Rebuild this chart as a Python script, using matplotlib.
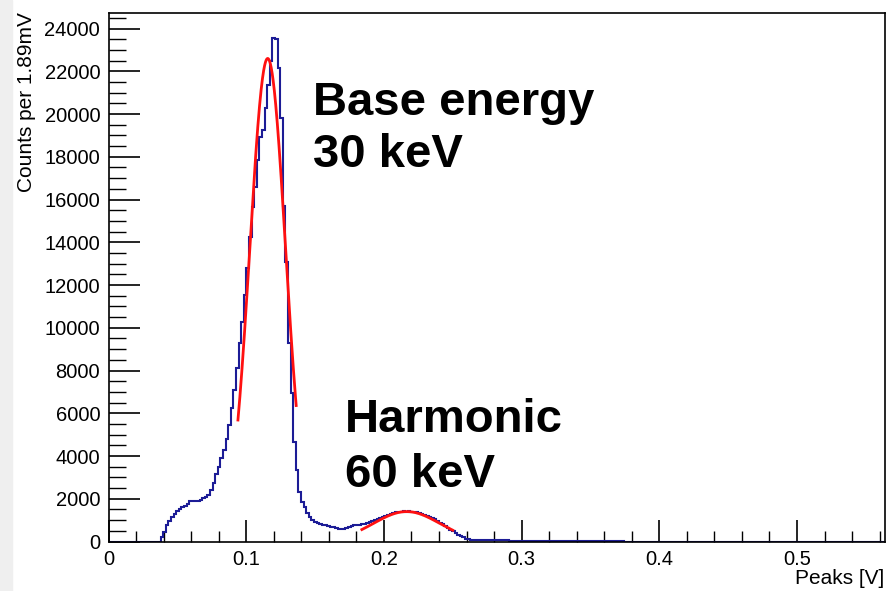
import numpy as np
import matplotlib
matplotlib.use('Agg')
import matplotlib.pyplot as plt
from matplotlib.ticker import MultipleLocator

plt.rcParams['font.family'] = ['Liberation Sans', 'DejaVu Sans']

# histogram: 1.89 mV bins starting at 0 V
BIN_W = 0.00189
N_BINS = 298
FIRST_BIN = 20  # bins before this one are empty
counts_nz = [
    200, 450, 750, 980, 1150, 1300, 1420, 1520, 1600, 1680,          # 20-29
    1760, 1880, 1900, 1880, 1900, 1960, 2020, 2100, 2180, 2400,      # 30-39
    2750, 3150, 3500, 3900, 4300, 4800, 5450, 6230, 7090, 8100,      # 40-49
    9270, 10280, 11530, 12780, 14260, 15660, 16600, 17850, 18940, 19250,  # 50-59
    20260, 21360, 22500, 23550, 23500, 22150, 19800, 15700, 13100, 9270,  # 60-69
    6930, 4670, 3350, 2330, 1860, 1630, 1320, 1160, 1000, 930,       # 70-79
    880, 830, 780, 750, 710, 690, 660, 620, 600, 585,                # 80-89
    590, 620, 690, 720, 760, 780, 760, 800, 830, 870,                # 90-99
    910, 960, 1000, 1050, 1110, 1150, 1200, 1250, 1290, 1330,        # 100-109
    1360, 1380, 1400, 1420, 1400, 1410, 1390, 1380, 1360, 1320,      # 110-119
    1300, 1250, 1210, 1150, 1100, 1030, 960, 880, 800, 720,          # 120-129
    640, 560, 480, 400, 320, 250, 190, 140, 110, 90,                 # 130-139
    75, 70, 65, 62, 60, 58, 56, 55, 54, 52,                          # 140-149
    50, 50, 48, 47, 46, 45, 44, 42, 40, 40,                          # 150-159
    38, 36, 35, 34, 32, 30, 30, 28, 26, 25,                          # 160-169
    24, 22, 20, 20, 18, 16, 15, 14, 12, 10,                          # 170-179
    10, 8, 8, 6, 6, 5, 5, 4, 4, 3,                                   # 180-189
    3, 2, 2, 2, 1, 1, 1, 1,                                          # 190-197
]

# gaussian fits (amplitude, mean [V], sigma [V], fit range [V])
fit_base = dict(amp=22600, mean=0.1156, sigma=0.0130, lo=0.0940, hi=0.1363)
fit_harm = dict(amp=1400, mean=0.2165, sigma=0.0240, lo=0.1840, hi=0.2500)

counts = np.zeros(N_BINS)
counts[FIRST_BIN:FIRST_BIN + len(counts_nz)] = counts_nz
edges = np.arange(N_BINS + 1) * BIN_W

fig = plt.figure(figsize=(8.89, 5.91), dpi=100)
fig.patches.append(plt.Rectangle((0, 0), 12 / 889, 1, transform=fig.transFigure,
                                 color='#efefef', zorder=0))
ax = fig.add_axes([108.5 / 889, 1 - 541.5 / 591, (885 - 108.5) / 889, (541.5 - 12.5) / 591])

ax.stairs(counts, edges, color='#1c1c96', lw=1.5, zorder=2)

for f in (fit_base, fit_harm):
    xs = np.linspace(f['lo'], f['hi'], 300)
    ax.plot(xs, f['amp'] * np.exp(-0.5 * ((xs - f['mean']) / f['sigma']) ** 2),
            color='#ff1010', lw=2.0, zorder=3)

ax.set_xlim(0, 0.5639)
ax.set_ylim(0, 24750)

ax.xaxis.set_major_locator(MultipleLocator(0.1))
ax.xaxis.set_minor_locator(MultipleLocator(0.02))
ax.yaxis.set_major_locator(MultipleLocator(2000))
ax.yaxis.set_minor_locator(MultipleLocator(500))
ax.xaxis.set_major_formatter(plt.FuncFormatter(lambda v, p: '0' if abs(v) < 1e-9 else f'{v:.1f}'))
ax.yaxis.set_major_formatter(plt.FuncFormatter(lambda v, p: f'{int(round(v))}'))

ax.tick_params(axis='both', which='both', direction='in', colors='black', labelsize=14.5)
ax.tick_params(axis='y', which='major', length=22, width=1.2, pad=6)
ax.tick_params(axis='y', which='minor', length=12, width=1.0)
ax.tick_params(axis='x', which='major', length=16, width=1.2, pad=6)
ax.tick_params(axis='x', which='minor', length=8, width=1.0)
for s in ax.spines.values():
    s.set_linewidth(1.2)
    s.set_color('black')

fig.text(884 / 889, 1 - 578 / 591, 'Peaks [V]', fontsize=15, ha='right', va='center')
ax.set_ylabel('Counts per 1.89mV', fontsize=15, loc='top', labelpad=6)

ax.text(0.1487, 19950, 'Base energy', fontsize=34, fontweight='bold', va='baseline')
ax.text(0.1487, 17500, '30 keV', fontsize=34, fontweight='bold', va='baseline')
ax.text(0.1718, 5120, 'Harmonic', fontsize=34, fontweight='bold', va='baseline')
ax.text(0.1718, 2550, '60 keV', fontsize=34, fontweight='bold', va='baseline')

fig.savefig('out.png', dpi=100)
